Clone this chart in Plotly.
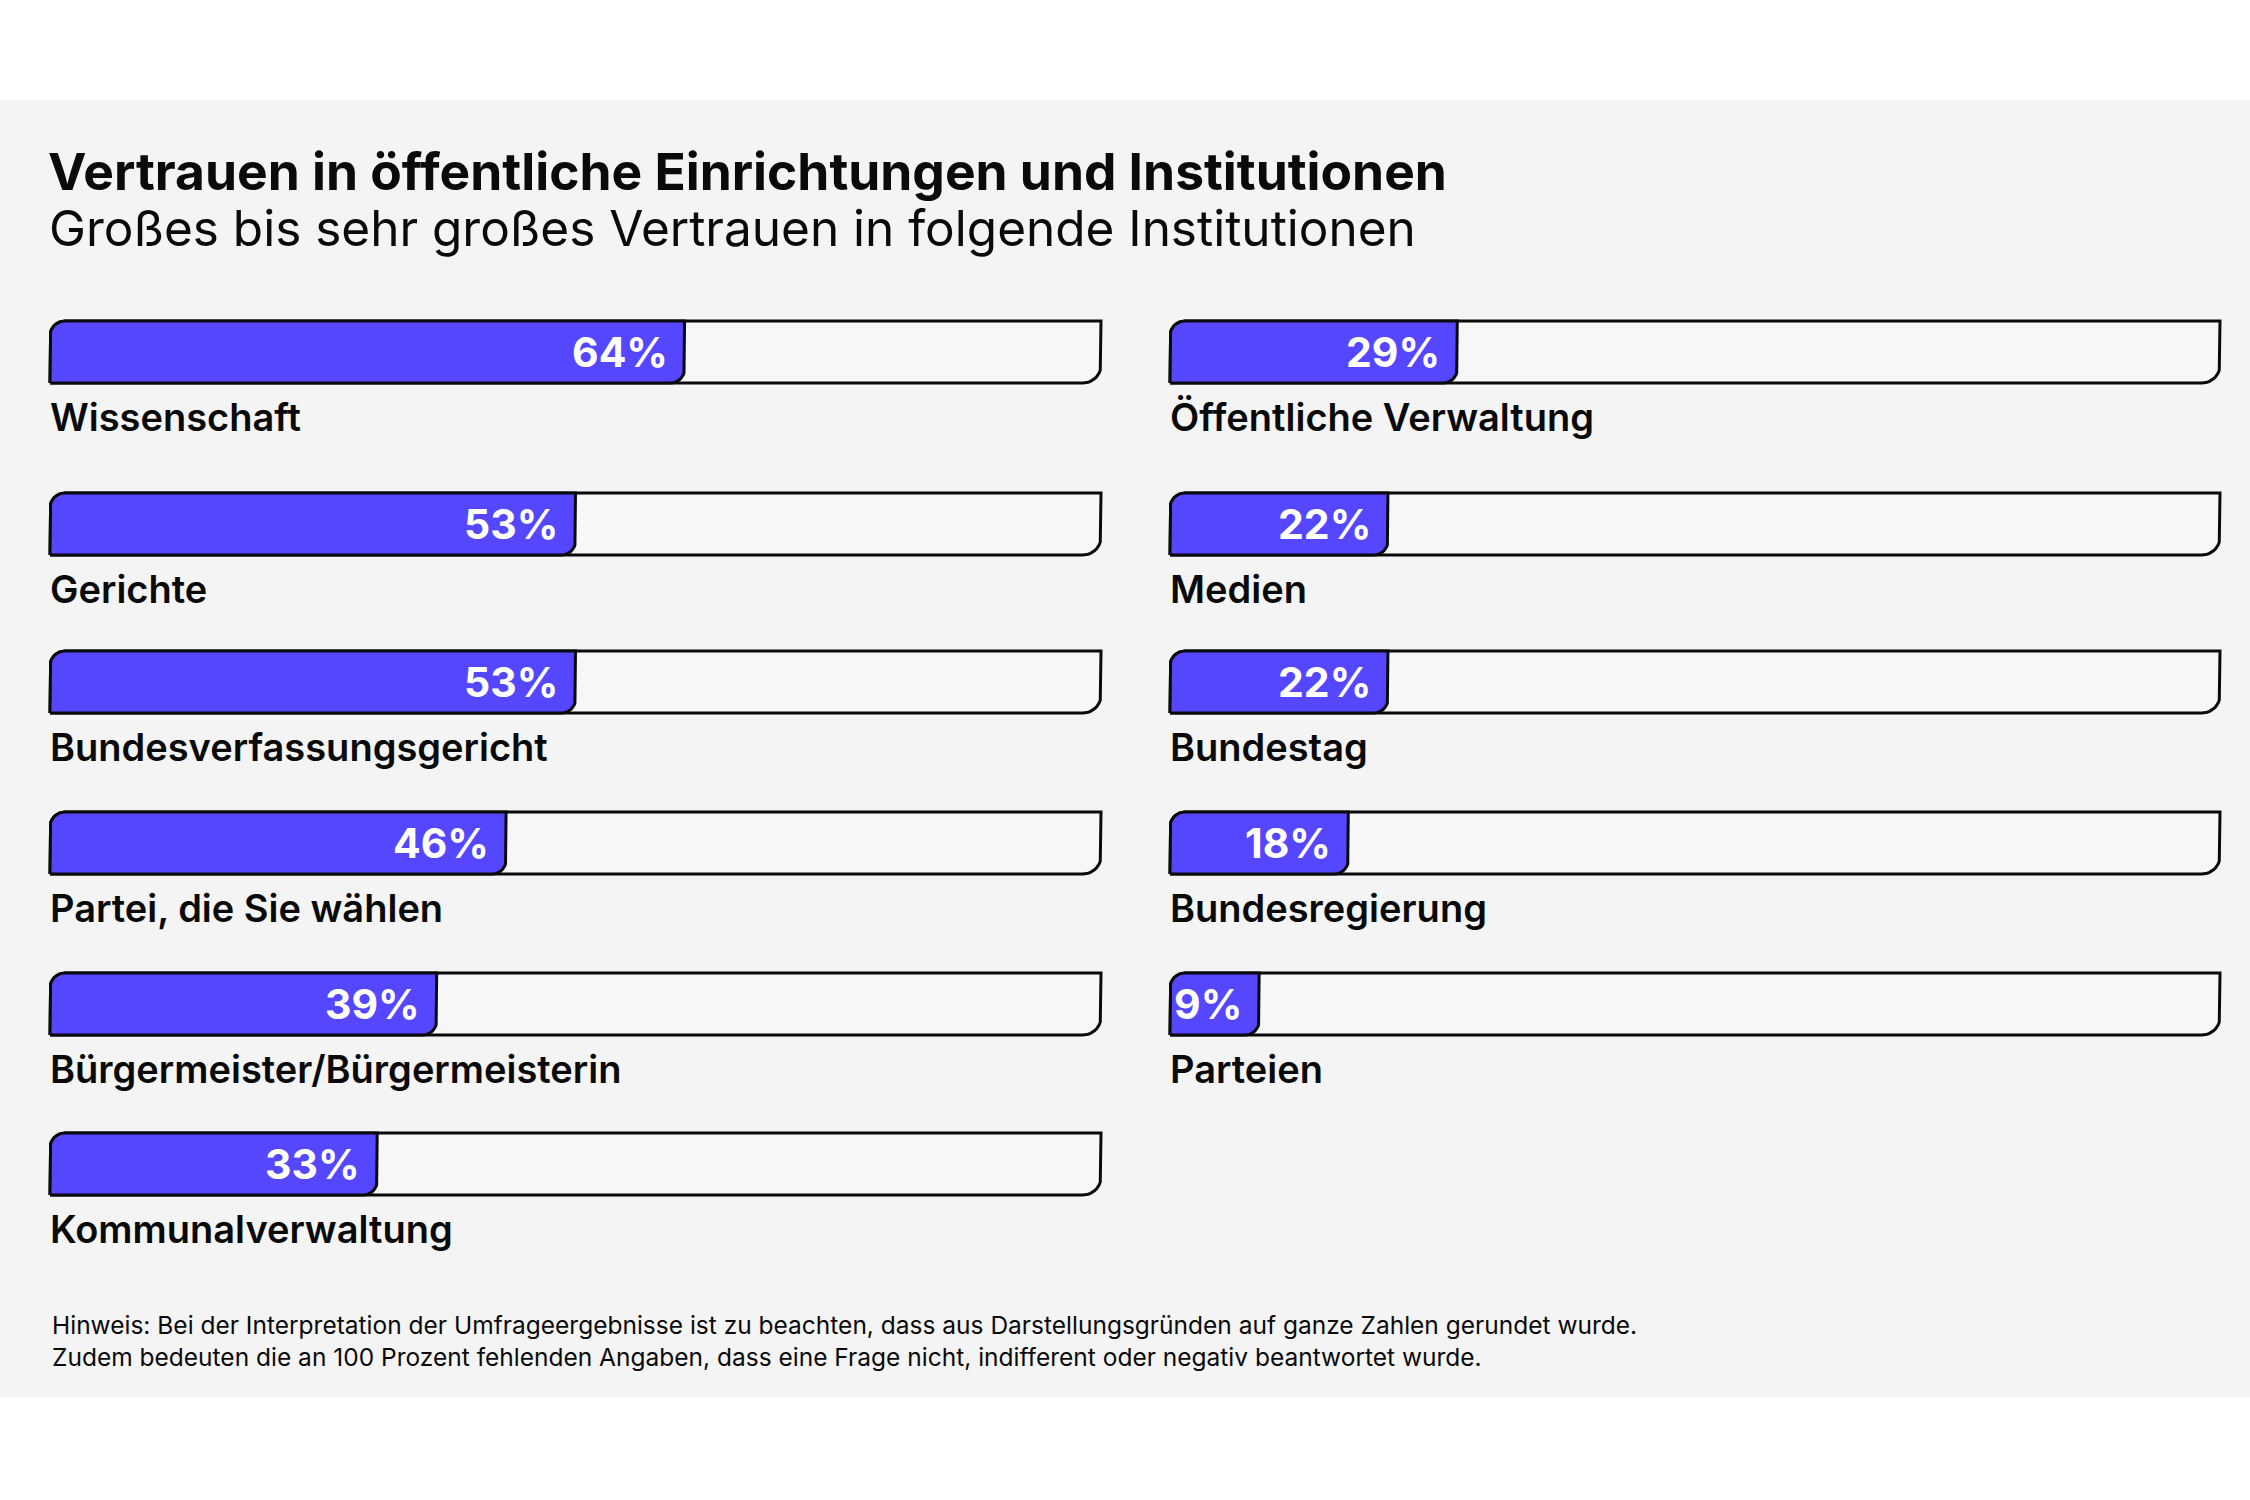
import numpy as np
import plotly.graph_objects as go

# ---------------- data ----------------
left_labels = ["Wissenschaft", "Gerichte", "Bundesverfassungsgericht",
               "Partei, die Sie wählen", "Bürgermeister/Bürgermeisterin",
               "Kommunalverwaltung"]
left_values = [64, 53, 53, 46, 39, 33]
right_labels = ["Öffentliche Verwaltung", "Medien", "Bundestag",
                "Bundesregierung", "Parteien"]
right_values = [29, 22, 22, 18, 9]

title = "Vertrauen in öffentliche Einrichtungen und Institutionen"
subtitle = "Großes bis sehr großes Vertrauen in folgende Institutionen"
note = ("Hinweis: Bei der Interpretation der Umfrageergebnisse ist zu beachten, dass aus "
        "Darstellungsgründen auf ganze Zahlen gerundet wurde.<br>"
        "Zudem bedeuten die an 100 Prozent fehlenden Angaben, dass eine Frage nicht, "
        "indifferent oder negativ beantwortet wurde.")

# ---------------- layout constants ----------------
W, H = 2250, 1500
BLUE = "#5546FF"
BG = "#F4F4F4"
TRACK = "#F7F7F7"
INK = "#0A0A0A"
FONT = "Inter"

TRACK_END = 106.0            # axis units spanned by the outlined track
row_y = [352, 524, 682, 843, 1004, 1164]   # pixel rows (y axis in pixels)
HALF = 31
LABEL_DY = 65

cols = [
    dict(left=50, right=1101, axis="x", labels=left_labels, values=left_values),
    dict(left=1170, right=2220, axis="x2", labels=right_labels, values=right_values),
]
PAD = 2.0  # extra axis units either side so strokes are not clipped


def rounded_path(x0, x1, y0, y1, r_tl, r_br, ppu, n=12):
    """Polygon (data x, pixel y) with rounded top-left and bottom-right corners."""
    xs, ys = [], []
    xs.append(x0); ys.append(y1)
    t = np.linspace(np.pi, 1.5 * np.pi, n)
    cx, cy = x0 + r_tl / ppu, y0 + r_tl
    for a in t:
        xs.append(cx + np.cos(a) * r_tl / ppu); ys.append(cy + np.sin(a) * r_tl)
    xs.append(x1); ys.append(y0)
    t = np.linspace(0, 0.5 * np.pi, n)
    cx, cy = x1 - r_br / ppu, y1 - r_br
    for a in t:
        xs.append(cx + np.cos(a) * r_br / ppu); ys.append(cy + np.sin(a) * r_br)
    xs.append(x0); ys.append(y1)
    return xs, ys


fig = go.Figure()
annotations = []

for c in cols:
    ppu = (c["right"] - c["left"]) / TRACK_END
    for i, (lab, val) in enumerate(zip(c["labels"], c["values"])):
        yc = row_y[i]
        y0, y1 = yc - HALF, yc + HALF
        tx, ty = rounded_path(0, TRACK_END, y0, y1, 15, 18, ppu)
        fig.add_trace(go.Scatter(x=tx, y=ty, mode="lines", fill="toself",
                                 fillcolor=TRACK, line=dict(color=INK, width=3),
                                 xaxis=c["axis"], yaxis="y", hoverinfo="skip",
                                 showlegend=False))
        fx, fy = rounded_path(0, val, y0, y1, 15, 14, ppu)
        fig.add_trace(go.Scatter(x=fx, y=fy, mode="lines", fill="toself",
                                 fillcolor=BLUE, line=dict(color=INK, width=3),
                                 xaxis=c["axis"], yaxis="y", hoverinfo="text",
                                 text=f"{lab}: {val}%", showlegend=False))
        annotations.append(dict(x=val, y=yc, xref=c["axis"], yref="y",
                                text=f"{val}%", showarrow=False, xanchor="right",
                                yanchor="middle", xshift=-15,
                                font=dict(family=FONT, size=41, color="white", weight=700)))
        annotations.append(dict(x=0, y=yc + LABEL_DY, xref=c["axis"], yref="y",
                                text=lab, showarrow=False, xanchor="left",
                                yanchor="middle", xshift=-2,
                                font=dict(family=FONT, size=38, color=INK, weight=600)))

annotations += [
    dict(x=50 / W, y=1 - 171 / H, xref="paper", yref="paper", text=title,
         showarrow=False, xanchor="left", yanchor="middle", xshift=-4,
         font=dict(family=FONT, size=51.5, color=INK, weight=700)),
    dict(x=50 / W, y=1 - 228 / H, xref="paper", yref="paper", text=subtitle,
         showarrow=False, xanchor="left", yanchor="middle", xshift=-3,
         font=dict(family=FONT, size=49.5, color=INK, weight=400)),
    dict(x=50 / W, y=1 - 1341 / H, xref="paper", yref="paper", text=note,
         showarrow=False, xanchor="left", yanchor="middle", align="left",
         font=dict(family=FONT, size=24.5, color=INK, weight=400)),
]


def xdomain(c):
    ppu = (c["right"] - c["left"]) / TRACK_END
    return [(c["left"] - PAD * ppu) / W, (c["right"] + PAD * ppu) / W]


fig.update_layout(
    width=W, height=H,
    margin=dict(l=0, r=0, t=0, b=0),
    paper_bgcolor="white", plot_bgcolor="rgba(0,0,0,0)",
    xaxis=dict(domain=xdomain(cols[0]), range=[-PAD, TRACK_END + PAD],
               visible=False, fixedrange=True, anchor="y"),
    xaxis2=dict(domain=xdomain(cols[1]), range=[-PAD, TRACK_END + PAD],
                visible=False, fixedrange=True, anchor="y"),
    yaxis=dict(domain=[0, 1], range=[H, 0], visible=False, fixedrange=True),
    shapes=[dict(type="rect", xref="paper", yref="paper", x0=0, x1=1,
                 y0=1 - 1397 / H, y1=1 - 100 / H, fillcolor=BG,
                 line=dict(width=0), layer="below")],
    annotations=annotations,
    showlegend=False,
)

fig.write_html("out.html", config={"displayModeBar": False},
               post_script="document.body.style.margin='0';"
                           "document.body.style.overflow='hidden';")
